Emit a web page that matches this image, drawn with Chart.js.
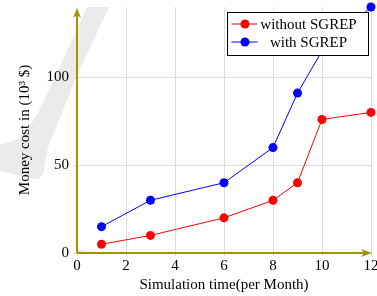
<!DOCTYPE html>
<html>
<head>
<meta charset="utf-8">
<script src="https://cdn.jsdelivr.net/npm/chart.js@4"></script>
<style>
html,body{margin:0;padding:0;background:#fff;}
#wrap{width:377px;height:296px;position:relative;}
</style>
</head>
<body>
<div id="wrap"><canvas id="c" width="377" height="296"></canvas></div>
<script>
const months = [1, 3, 6, 8, 9, 10, 12];
const withoutSGREP = [5, 10, 20, 30, 40, 76, 80];
const withSGREP = [15, 30, 40, 60, 91, 115, 140];
const xTicks = [0, 2, 4, 6, 8, 10, 12];
const yTicks = [0, 50, 100];
const seriesLabels = ['without SGREP', 'with SGREP'];
const xTitle = 'Simulation time(per Month)';
const yTitle = 'Money cost in (10\u00B3 $)';

const AXIS = '#9e9600';
const FONT = 'Liberation Serif';

const toPts = (ys) => months.map((m, i) => ({x: m, y: ys[i]}));

const watermark = {
  id: 'watermark',
  beforeDraw(chart) {
    const ctx = chart.ctx;
    ctx.save();
    ctx.fillStyle = '#ebebeb';
    ctx.beginPath();
    ctx.moveTo(87, 7);
    ctx.lineTo(109, 7);
    ctx.lineTo(75, 80);
    ctx.lineTo(62, 113);
    ctx.lineTo(48, 147);
    ctx.lineTo(44, 170);
    ctx.quadraticCurveTo(42, 180, 34, 179);
    ctx.lineTo(0, 171);
    ctx.lineTo(0, 145);
    ctx.quadraticCurveTo(20, 140, 27, 130);
    ctx.lineTo(38, 113);
    ctx.lineTo(50, 88);
    ctx.closePath();
    ctx.fill();
    ctx.beginPath();
    ctx.moveTo(78, 249);
    ctx.lineTo(92, 252);
    ctx.lineTo(78, 252);
    ctx.closePath();
    ctx.fill();
    ctx.restore();
  }
};

const axesArrows = {
  id: 'axesArrows',
  afterDatasetsDraw(chart) {
    const {ctx, chartArea: a} = chart;
    const x0 = chart.scales.x.getPixelForValue(0);
    const y0 = chart.scales.y.getPixelForValue(0);
    ctx.save();
    ctx.strokeStyle = AXIS;
    ctx.fillStyle = AXIS;
    ctx.lineWidth = 2;
    ctx.beginPath();
    ctx.moveTo(x0, y0);
    ctx.lineTo(a.right - 4, y0);
    ctx.moveTo(x0, y0);
    ctx.lineTo(x0, a.top + 5);
    ctx.stroke();
    ctx.beginPath();
    ctx.moveTo(a.right + 1, y0);
    ctx.lineTo(a.right - 10, y0 - 4);
    ctx.lineTo(a.right - 7, y0);
    ctx.lineTo(a.right - 10, y0 + 4);
    ctx.closePath();
    ctx.fill();
    ctx.beginPath();
    ctx.moveTo(x0, a.top + 1);
    ctx.lineTo(x0 - 4, a.top + 11);
    ctx.lineTo(x0, a.top + 8);
    ctx.lineTo(x0 + 4, a.top + 11);
    ctx.closePath();
    ctx.fill();
    ctx.restore();
  }
};

const boxLegend = {
  id: 'boxLegend',
  afterDraw(chart) {
    const ctx = chart.ctx;
    const bx = 227.5, by = 12.5, bw = 141, bh = 43;
    ctx.save();
    ctx.fillStyle = '#fff';
    ctx.fillRect(bx, by, bw, bh);
    ctx.strokeStyle = '#000';
    ctx.lineWidth = 1;
    ctx.strokeRect(bx, by, bw, bh);
    ctx.font = '15px "' + FONT + '"';
    ctx.textBaseline = 'middle';
    ctx.textAlign = 'center';
    chart.data.datasets.forEach((ds, i) => {
      const cy = by + 11.5 + i * 18;
      ctx.strokeStyle = ds.borderColor;
      ctx.lineWidth = 1;
      ctx.beginPath();
      ctx.moveTo(bx + 4, cy);
      ctx.lineTo(bx + 30, cy);
      ctx.stroke();
      ctx.fillStyle = ds.backgroundColor;
      ctx.beginPath();
      ctx.arc(bx + 17.5, cy, 4.5, 0, Math.PI * 2);
      ctx.fill();
      ctx.fillStyle = '#000';
      ctx.fillText(ds.label, bx + 81, cy + 1);
    });
    ctx.restore();
  }
};

new Chart(document.getElementById('c'), {
  type: 'line',
  data: {
    datasets: [
      {label: seriesLabels[0], data: toPts(withoutSGREP), borderColor: '#ff0000', backgroundColor: '#ff0000',
       borderWidth: 1, pointRadius: 4.5, pointBorderWidth: 0, tension: 0, clip: false},
      {label: seriesLabels[1], data: toPts(withSGREP), borderColor: '#0000ff', backgroundColor: '#0000ff',
       borderWidth: 1, pointRadius: 4.5, pointBorderWidth: 0, tension: 0, clip: false}
    ]
  },
  options: {
    responsive: false,
    animation: false,
    devicePixelRatio: 1,
    layout: {padding: {left: 0, top: 7, right: 6, bottom: 0}},
    plugins: {legend: {display: false}, tooltip: {enabled: false}},
    scales: {
      x: {
        type: 'linear', min: 0, max: 12,
        afterBuildTicks: (s) => { s.ticks = xTicks.map(v => ({value: v})); },
        afterFit: (s) => { s.height = 43; s.paddingLeft = 0; s.paddingRight = 0; },
        grid: {color: '#dcdcdc', lineWidth: 1, tickLength: 3, drawTicks: true},
        border: {display: false},
        ticks: {color: '#000', font: {family: FONT, size: 15}, padding: 1, maxRotation: 0, autoSkip: false},
        title: {display: true, text: xTitle, color: '#000', font: {family: FONT, size: 15}, padding: {top: 0, bottom: 2}}
      },
      y: {
        type: 'linear', min: 0, max: 140,
        afterBuildTicks: (s) => { s.ticks = yTicks.map(v => ({value: v})); },
        afterFit: (s) => { s.width = 77; s.paddingTop = 0; s.paddingBottom = 0; },
        grid: {color: '#dcdcdc', lineWidth: 1, tickLength: 3, drawTicks: true},
        border: {display: false},
        ticks: {color: '#000', font: {family: FONT, size: 15}, padding: 5, autoSkip: false},
        title: {display: true, text: yTitle, color: '#000', font: {family: FONT, size: 15}, padding: {top: 16, bottom: 0}}
      }
    }
  },
  plugins: [watermark, axesArrows, boxLegend]
});
</script>
</body>
</html>
